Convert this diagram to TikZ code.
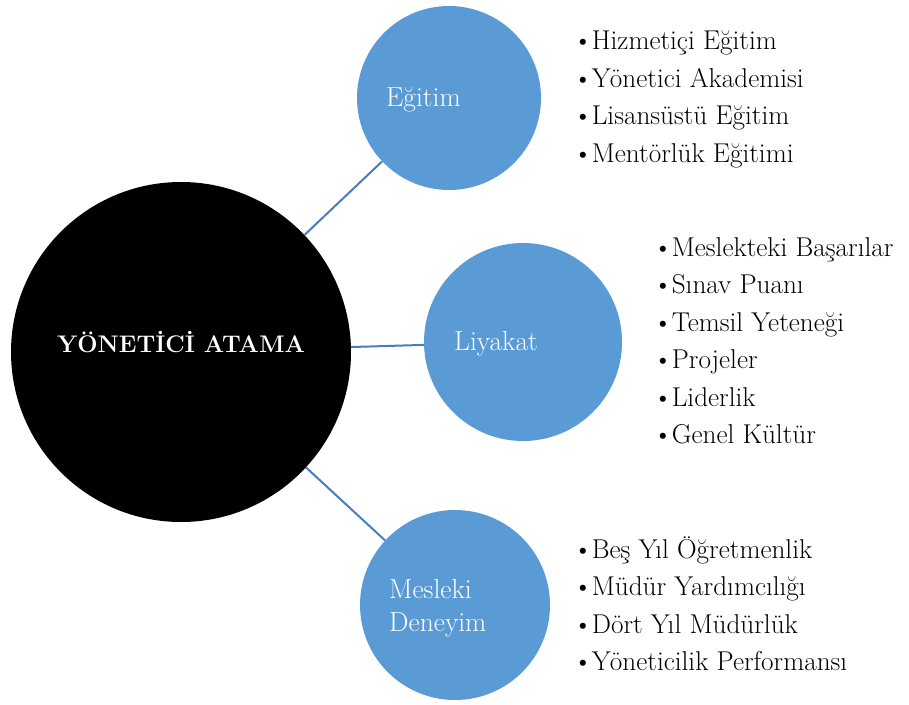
\documentclass[tikz,border=0pt]{standalone}
\usepackage{fontspec}
\definecolor{subfill}{HTML}{5B9BD5}
\definecolor{connline}{HTML}{4A7EBB}
\tikzset{
  bigc/.style={circle, fill=black, inner sep=0pt, minimum size=340pt},
  subc/.style={circle, fill=subfill, inner sep=0pt},
  conn/.style={draw=connline, line width=2pt},
  titletext/.style={text=white, inner sep=0pt, font=\fontsize{24}{28}\selectfont\bfseries},
  labtext/.style={text=white, inner sep=0pt, anchor=base west, font=\fontsize{27.5}{33}\selectfont},
  itemtext/.style={text=black, inner sep=0pt, anchor=base west, font=\fontsize{27.2}{37}\selectfont},
}
\newcommand{\itm}[1]{\textbullet\kern-1pt#1}
\begin{document}
\begin{tikzpicture}[x=1pt,y=-1pt]
\useasboundingbox (0,0) rectangle (909,704);
\node[bigc] (main) at (181,352) {};
\node[subc, minimum size=184pt] (egc) at (449,98) {};
\node[subc, minimum size=198pt] (lic) at (523,342) {};
\node[subc, minimum size=190pt] (mec) at (455,605) {};
\draw[conn] (main) -- (egc);
\draw[conn] (main) -- (lic);
\draw[conn] (main) -- (mec);
\node[titletext] (mt) at (181,342) {YÖNETİCİ ATAMA};
\node[labtext] (egl) at (386,106) {Eğitim};
\node[labtext] (lil) at (454,350) {Liyakat};
\node[labtext] (mel1) at (389,598) {Mesleki};
\node[labtext] (mel2) at (389,631) {Deneyim};
% Egitim list
\node[itemtext] (e1) at (573,49) {\itm{Hizmetiçi Eğitim}};
\node[itemtext] (e2) at (573,87) {\itm{Yönetici Akademisi}};
\node[itemtext] (e3) at (573,124) {\itm{Lisansüstü Eğitim}};
\node[itemtext] (e4) at (573,162) {\itm{Mentörlük Eğitimi}};
% Liyakat list
\node[itemtext] (l1) at (653,256) {\itm{Meslekteki Başarılar}};
\node[itemtext] (l2) at (653,293) {\itm{Sınav Puanı}};
\node[itemtext] (l3) at (653,331) {\itm{Temsil Yeteneği}};
\node[itemtext] (l4) at (653,368) {\itm{Projeler}};
\node[itemtext] (l5) at (653,406) {\itm{Liderlik}};
\node[itemtext] (l6) at (653,443) {\itm{Genel Kültür}};
% Mesleki list
\node[itemtext] (m1) at (573,558) {\itm{Beş Yıl Öğretmenlik}};
\node[itemtext] (m2) at (573,595) {\itm{Müdür Yardımcılığı}};
\node[itemtext] (m3) at (573,633) {\itm{Dört Yıl Müdürlük}};
\node[itemtext] (m4) at (573,670) {\itm{Yöneticilik Performansı}};
\end{tikzpicture}
\end{document}
